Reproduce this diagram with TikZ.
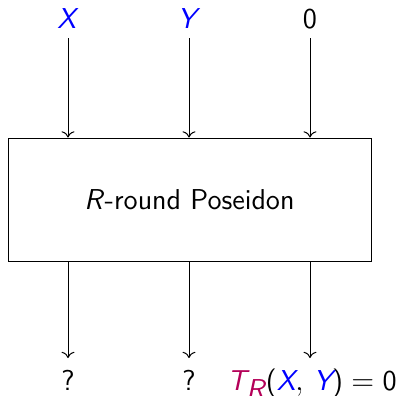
\documentclass[tikz,border=0pt]{standalone}
\usepackage{xcolor}
\usepackage{tikz}
\usetikzlibrary{arrows.meta, positioning, calc}
\definecolor{roundcol}{RGB}{180,0,88}
\tikzstyle{perm}  = [rectangle, draw, minimum width=363*0.4pt, minimum height=123*0.4pt,
                     inner sep=0pt, font=\fontsize{11.5}{14}\sffamily]
\tikzstyle{wire}  = [->]
\tikzstyle{lbl}   = [font=\fontsize{11.5}{14}\sffamily, anchor=base, inner sep=0pt]
\newcommand{\mv}[1]{\textit{#1}}

\begin{document}
\begin{tikzpicture}[x=0.4pt, y=-0.4pt]
  \useasboundingbox (0,0) rectangle (399,395);

  % Permutation box
  \node[perm] (pos) at (189.5,199.5) {\mv{R}-round Poseidon};

  % Inputs
  \node[lbl] (inx) at (68,28)  {\color{blue}\mv{X}};
  \node[lbl] (iny) at (189,28) {\color{blue}\mv{Y}};
  \node[lbl] (inz) at (310,28) {0};

  % Outputs
  \node[lbl] (outx) at (68,390)  {?};
  \node[lbl] (outy) at (189,390) {?};
  \node[lbl] (outz) at (312,390)
    {$\textcolor{roundcol}{\mv{T}_{\mv{R}}}\textsf{(}\textcolor{blue}{\mv{X}},\,\textcolor{blue}{\mv{Y}}\textsf{)}=\textsf{0}$};

  % Wires in
  \draw[wire] (inx |- 0,38) -- (inx |- pos.north);
  \draw[wire] (iny |- 0,38) -- (iny |- pos.north);
  \draw[wire] (inz |- 0,38) -- (inz |- pos.north);

  % Wires out
  \draw[wire] (inx |- pos.south) -- (inx |- 0,358);
  \draw[wire] (iny |- pos.south) -- (iny |- 0,358);
  \draw[wire] (inz |- pos.south) -- (inz |- 0,358);
\end{tikzpicture}
\end{document}
